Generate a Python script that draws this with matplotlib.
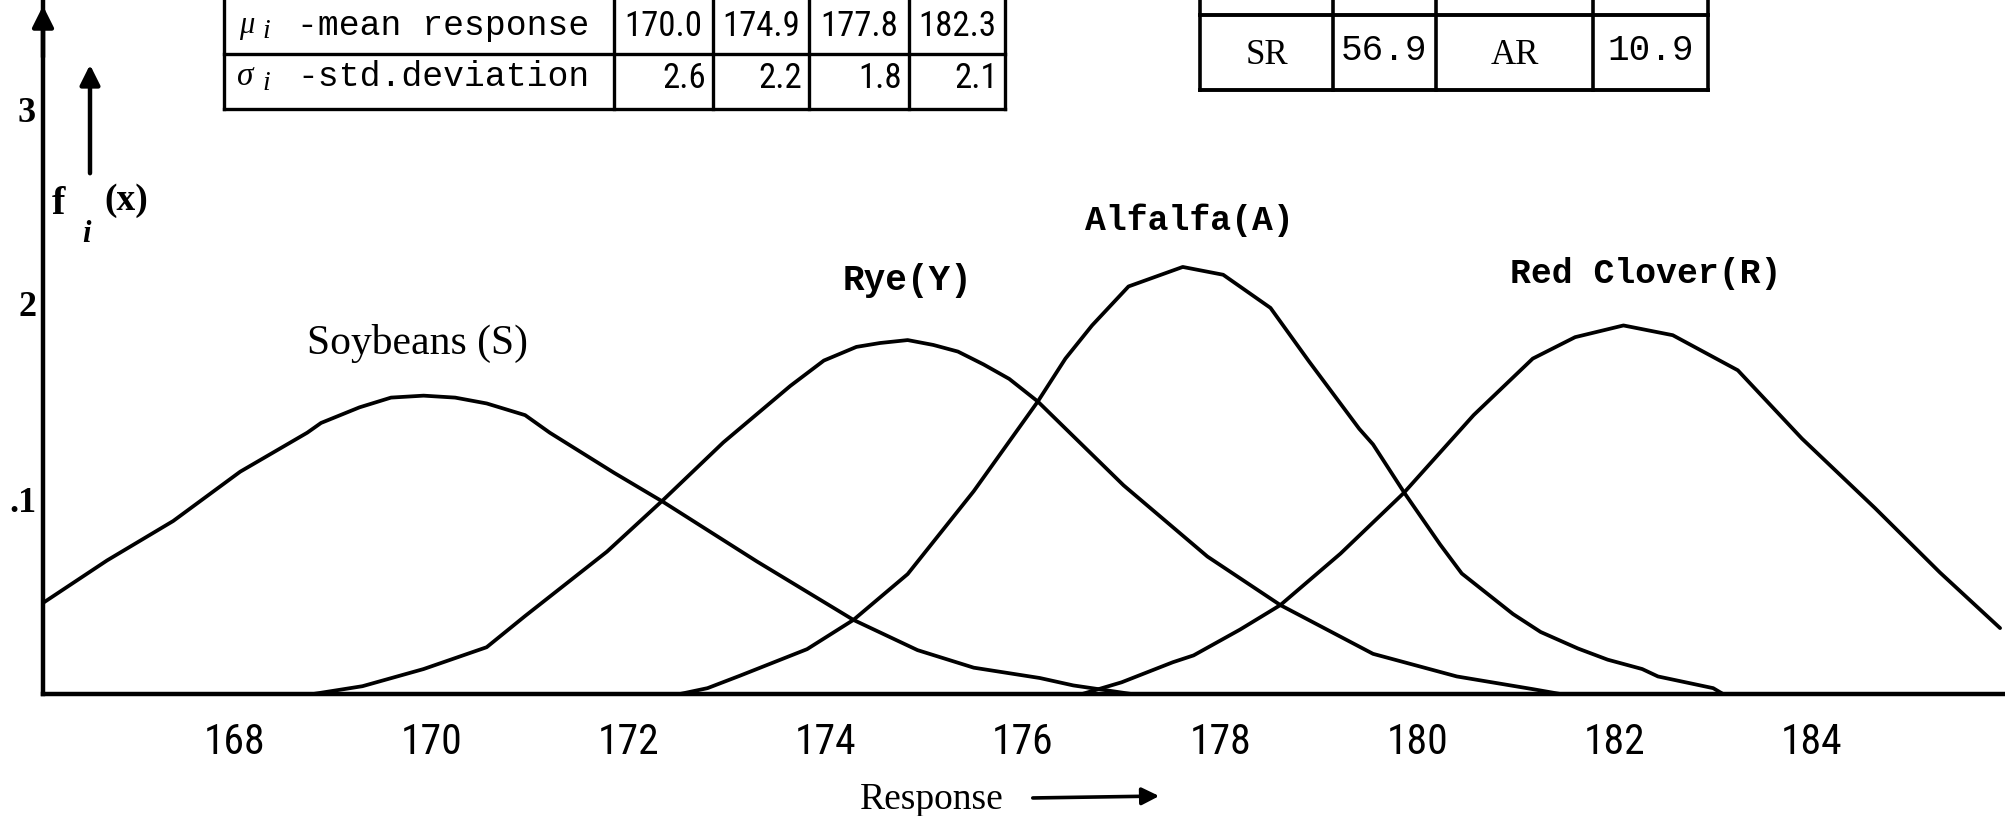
import matplotlib
matplotlib.use('Agg')
import matplotlib.pyplot as plt
from matplotlib import font_manager as fm


def pick(names):
    for n in names:
        try:
            fm.findfont(fm.FontProperties(family=n), fallback_to_default=False)
            return n
        except Exception:
            pass
    return 'DejaVu Sans'


NARROW = pick(['Liberation Sans Narrow', 'Roboto Condensed', 'DejaVu Sans'])
MONO = pick(['Liberation Mono', 'DejaVu Sans Mono'])
SERIF = pick(['Liberation Serif', 'DejaVu Serif'])

# ---------------- data ----------------
crops = ['Soybeans (S)', 'Rye(Y)', 'Alfalfa(A)', 'Red Clover(R)']
mean_response = [170.0, 174.9, 177.8, 182.3]
std_deviation = [2.6, 2.2, 1.8, 2.1]

pair_labels = ['SR', 'AR']
pair_values = [56.9, 10.9]

soy_x = [166.06, 166.71, 167.38, 168.06, 168.74, 168.88, 169.27, 169.59, 169.92, 170.24,
         170.56, 170.95, 171.20, 171.85, 172.35, 173.30, 174.28, 174.93, 175.50,
         176.17, 176.51, 177.10]
soy_y = [0.0467, 0.0685, 0.0887, 0.114, 0.134, 0.139, 0.147, 0.152, 0.153, 0.152,
         0.149, 0.143, 0.134, 0.1135, 0.0985, 0.068, 0.038, 0.0225, 0.0135,
         0.0082, 0.0044, 0.0]

rye_x = [168.80, 169.30, 169.92, 170.56, 170.95, 171.78, 172.35, 172.96, 173.64, 173.98,
         174.31, 174.55, 174.83, 175.09, 175.34, 175.60, 175.86, 176.15, 177.02,
         177.87, 178.61, 179.55, 180.40, 181.17, 181.45]
rye_y = [0.0, 0.004, 0.0128, 0.024, 0.040, 0.073, 0.0995, 0.129, 0.158, 0.171,
         0.178, 0.180, 0.1815, 0.179, 0.1756, 0.169, 0.1616, 0.150, 0.107,
         0.0705, 0.0456, 0.0206, 0.009, 0.0025, 0.0]

alf_x = [172.52, 172.80, 173.13, 173.81, 174.28, 174.83, 175.50, 176.15, 176.43, 176.70,
         177.07, 177.62, 178.03, 178.51, 178.90, 179.41, 179.55, 179.87, 180.23,
         180.45, 180.97, 181.25, 181.63, 181.93, 182.28, 182.44, 183.00, 183.10]
alf_y = [0.0, 0.003, 0.0094, 0.023, 0.038, 0.0615, 0.104, 0.150, 0.172, 0.189,
         0.209, 0.219, 0.215, 0.198, 0.1706, 0.136, 0.128, 0.103, 0.0767,
         0.0618, 0.041, 0.0318, 0.0233, 0.0176, 0.0128, 0.009, 0.003, 0.0]

red_x = [176.60, 177.00, 177.52, 177.73, 178.20, 178.61, 179.22, 179.86, 180.57, 181.17,
         181.60, 182.09, 182.59, 183.25, 183.90, 184.64, 185.30, 185.91]
red_y = [0.0, 0.006, 0.0163, 0.0198, 0.033, 0.0456, 0.072, 0.103, 0.143, 0.172,
         0.183, 0.189, 0.184, 0.166, 0.131, 0.0954, 0.0623, 0.0338]

x_ticks = [168, 170, 172, 174, 176, 178, 180, 182, 184]
y_ticks = [0.1, 0.2, 0.3]
y_tick_labels = ['.1', '2', '3']

# ---------------- figure ----------------
W, H = 2006, 816
fig = plt.figure(figsize=(W / 100, H / 100), dpi=100)
fig.patch.set_facecolor('white')

x0_px, base_px = 43, 694
ax = fig.add_axes([x0_px / W, (H - base_px) / H, 1 - x0_px / W, base_px / H])
ax.patch.set_visible(False)
ax.set_xlim(166.06, 185.97)
ax.set_ylim(0, base_px / 1950)
for s in ['top', 'right']:
    ax.spines[s].set_visible(False)
for s in ['left', 'bottom']:
    ax.spines[s].set_linewidth(3.2)
    ax.spines[s].set_color('black')

for xs, ys in [(soy_x, soy_y), (rye_x, rye_y), (alf_x, alf_y), (red_x, red_y)]:
    ax.plot(xs, ys, color='black', lw=2.7, solid_joinstyle='round',
            solid_capstyle='round')

ax.set_xticks(x_ticks)
ax.set_xticklabels([str(t) for t in x_ticks], fontfamily=NARROW, fontsize=30)
ax.tick_params(axis='x', length=0, pad=20)
ax.set_yticks(y_ticks)
ax.set_yticklabels(y_tick_labels, fontfamily=SERIF, fontweight='bold', fontsize=26)
ax.tick_params(axis='y', length=0, pad=5)

# ---------------- overlay in pixel coordinates ----------------
ov = fig.add_axes([0, 0, 1, 1])
ov.set_xlim(0, W)
ov.set_ylim(H, 0)
ov.axis('off')
ov.patch.set_visible(False)

# y-axis arrow head
ov.annotate('', xy=(43, 3), xytext=(43, 60),
            arrowprops=dict(arrowstyle='-|>', lw=3.2, color='black', mutation_scale=32))
# f_i(x) label with arrow
ov.annotate('', xy=(90, 62), xytext=(90, 176),
            arrowprops=dict(arrowstyle='-|>', lw=3.2, color='black', mutation_scale=30))
ov.text(52, 204, 'f', fontfamily=SERIF, fontweight='bold', fontsize=29, va='center', ha='left')
ov.text(82, 234, 'i', fontfamily=SERIF, fontweight='bold', fontstyle='italic', fontsize=22,
        va='center', ha='left')
ov.text(104, 200, '(x)', fontfamily=SERIF, fontweight='bold', fontsize=27, va='center', ha='left')

# curve labels
label_style = [(307, 343, SERIF, 30, 'normal'), (843, 281, MONO, 26, 'bold'),
               (1085, 220, MONO, 25, 'bold'), (1510, 273, MONO, 25, 'bold')]
for name, (lx, ly, fam, fs, fw) in zip(crops, label_style):
    ov.text(lx, ly, name, fontfamily=fam, fontsize=fs, va='center', ha='left', fontweight=fw)

# x-axis title with arrow
ov.text(932, 800, 'Response', fontfamily=SERIF, fontsize=27, va='center', ha='center')
ov.annotate('', xy=(1162, 796), xytext=(1030, 798),
            arrowprops=dict(arrowstyle='-|>', lw=2.6, color='black', mutation_scale=26))

# ---- left table: mean / std ----
cols = [224, 614, 713, 809, 909, 1005]
rows = [-60, 54, 109]
for cx in cols:
    ov.plot([cx, cx], [rows[0], rows[-1]], color='black', lw=2.4, clip_on=False)
for ry in rows[1:]:
    ov.plot([cols[0], cols[-1]], [ry, ry], color='black', lw=2.4, clip_on=False)

ov.text(239, 26, 'μ', fontfamily=SERIF, fontstyle='italic', fontsize=22, va='center', ha='left')
ov.text(262, 32, 'i', fontfamily=SERIF, fontstyle='italic', fontsize=20, va='center', ha='left')
ov.text(297, 25, '-mean response', fontfamily=MONO, fontsize=25, va='center', ha='left')
ov.text(237, 77, 'σ', fontfamily=SERIF, fontstyle='italic', fontsize=24, va='center', ha='left')
ov.text(262, 83, 'i', fontfamily=SERIF, fontstyle='italic', fontsize=20, va='center', ha='left')
ov.text(297, 76, '-std.deviation', fontfamily=MONO, fontsize=25, va='center', ha='left')

for i, (m, s) in enumerate(zip(mean_response, std_deviation)):
    ov.text((cols[i + 1] + cols[i + 2]) / 2, 27, f'{m:.1f}', fontfamily=NARROW, fontsize=25,
            va='center', ha='center')
    ov.text(cols[i + 2] - 7, 78, f'{s:.1f}', fontfamily=NARROW, fontsize=25,
            va='center', ha='right')

# ---- right table: pairs ----
rcols = [1200, 1333, 1436, 1593, 1708]
rrows = [-60, 15, 90]
for cx in rcols:
    ov.plot([cx, cx], [rrows[0], rrows[-1]], color='black', lw=2.6, clip_on=False)
for ry in rrows[1:]:
    ov.plot([rcols[0], rcols[-1]], [ry, ry], color='black', lw=2.8, clip_on=False)
for k, (lab, val) in enumerate(zip(pair_labels, pair_values)):
    c0 = rcols[2 * k]
    c1 = rcols[2 * k + 1]
    c2 = rcols[2 * k + 2]
    ov.text((c0 + c1) / 2, 55, lab, fontfamily=SERIF, fontsize=25, va='center', ha='center')
    ov.text((c1 + c2) / 2, 50, f'{val:.1f}', fontfamily=MONO, fontsize=26, va='center', ha='center')

fig.savefig('out.png', dpi=100, facecolor='white')
